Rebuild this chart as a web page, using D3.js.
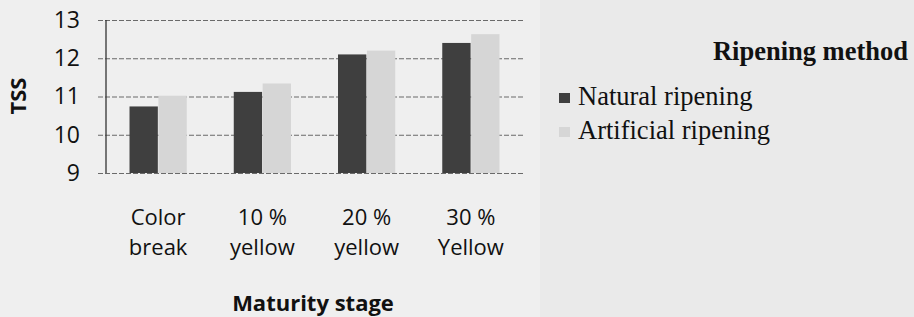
<!DOCTYPE html>
<html>
<head>
<meta charset="utf-8">
<script src="https://cdn.jsdelivr.net/npm/d3@7"></script>
<style>
  body { margin: 0; background: #e9e9e9; }
  svg { display: block; }
</style>
</head>
<body>
<div id="chart"></div>
<script>
// categories (two lines each) and series values
let stages = ['Color break', '10 % yellow', '20 % yellow', '30 % Yellow'];
let stageLines = [['Color', 'break'], ['10 %', 'yellow'], ['20 %', 'yellow'], ['30 %', 'Yellow']];
let seriesNames = ['Natural ripening', 'Artificial ripening'];
let natural = [10.74, 11.12, 12.10, 12.40];
let artificial = [11.02, 11.34, 12.20, 12.63];
let yTicks = [9, 10, 11, 12, 13];

let colors = ['#3f3f3f', '#d6d6d6'];

let W = 914, H = 317;
let plot = {left: 106, right: 523, top: 20, bottom: 173};

let svg = d3.select('#chart')
            .append('svg')
            .attr('width', W)
            .attr('height', H);

svg.append('rect')
   .attr('width', W).attr('height', H)
   .attr('fill', '#eaeaea');

// a slightly lighter panel behind the chart, like the scan
svg.append('rect')
   .attr('x', 0).attr('y', 0)
   .attr('width', 540).attr('height', H)
   .attr('fill', '#efefef');

let x0 = d3.scaleBand()
           .domain(stages)
           .range([plot.left, plot.right])
           .paddingInner(0.44)
           .paddingOuter(0.22);

let x1 = d3.scaleBand()
           .domain(seriesNames)
           .range([0, x0.bandwidth()])
           .padding(0.02);

let y = d3.scaleLinear()
          .domain([9, 13])
          .range([plot.bottom, plot.top]);

// gridlines + ticks
let yAxis = d3.axisLeft(y)
              .tickValues(yTicks)
              .tickSize(-(plot.right - plot.left + 8))
              .tickFormat(d3.format('d'));

let gy = svg.append('g')
            .attr('transform', 'translate(' + (plot.left - 8) + ',0)')
            .call(yAxis);
gy.select('.domain').remove();
gy.selectAll('.tick line')
  .attr('stroke', '#6a6a6a')
  .attr('stroke-width', 1.2)
  .attr('stroke-dasharray', '5,2');
gy.selectAll('.tick text')
  .attr('x', -18)
  .attr('fill', '#111')
  .style('font-family', '"Open Sans", sans-serif')
  .style('font-size', '23px');

// value axis line
svg.append('line')
   .attr('x1', plot.left).attr('x2', plot.left)
   .attr('y1', y(13)).attr('y2', y(9))
   .attr('stroke', '#333')
   .attr('stroke-width', 1.3);

// bars
let rows = stages.map((s, i) => ({stage: s, vals: [natural[i], artificial[i]]}));

let groups = svg.append('g')
                .selectAll('g')
                .data(rows)
                .join('g')
                .attr('transform', d => 'translate(' + x0(d.stage) + ',0)');

groups.selectAll('rect')
      .data(d => d.vals.map((v, j) => ({name: seriesNames[j], v: v, j: j})))
      .join('rect')
      .attr('x', d => x1(d.name))
      .attr('y', d => y(d.v))
      .attr('width', x1.bandwidth())
      .attr('height', d => y(9) - y(d.v))
      .attr('fill', d => colors[d.j]);

// category labels
let cat = svg.append('g')
             .selectAll('text')
             .data(stages)
             .join('text')
             .attr('x', d => x0(d) + x0.bandwidth() / 2)
             .attr('y', 225)
             .attr('text-anchor', 'middle')
             .attr('fill', '#111')
             .style('font-family', '"Open Sans", sans-serif')
             .style('font-size', '22px');
cat.each(function (d, i) {
  let t = d3.select(this);
  stageLines[i].forEach((ln, k) => {
    t.append('tspan')
     .attr('x', x0(d) + x0.bandwidth() / 2)
     .attr('dy', k === 0 ? 0 : 30)
     .text(ln);
  });
});

// axis titles
svg.append('text')
   .attr('x', 313).attr('y', 311)
   .attr('text-anchor', 'middle')
   .attr('fill', '#111')
   .style('font-family', '"Open Sans", sans-serif')
   .style('font-weight', 'bold')
   .style('font-size', '22px')
   .text('Maturity stage');

svg.append('text')
   .attr('transform', 'translate(26,96) rotate(-90)')
   .attr('text-anchor', 'middle')
   .attr('fill', '#111')
   .style('font-family', '"Open Sans", sans-serif')
   .style('font-weight', 'bold')
   .style('font-size', '22px')
   .text('TSS');

// legend
svg.append('text')
   .attr('x', 908).attr('y', 60)
   .attr('text-anchor', 'end')
   .attr('fill', '#111')
   .style('font-family', '"Liberation Serif", serif')
   .style('font-weight', 'bold')
   .style('font-size', '26.5px')
   .text('Ripening method');

let leg = svg.append('g')
             .selectAll('g')
             .data(seriesNames)
             .join('g')
             .attr('transform', (d, i) => 'translate(559,' + (93 + i * 34) + ')');
leg.append('rect')
   .attr('width', 11).attr('height', 10)
   .attr('fill', (d, i) => colors[i]);
leg.append('text')
   .attr('x', 19).attr('y', 12)
   .attr('fill', '#111')
   .style('font-family', '"Liberation Serif", serif')
   .style('font-size', '26.5px')
   .text(d => d);
</script>
</body>
</html>
